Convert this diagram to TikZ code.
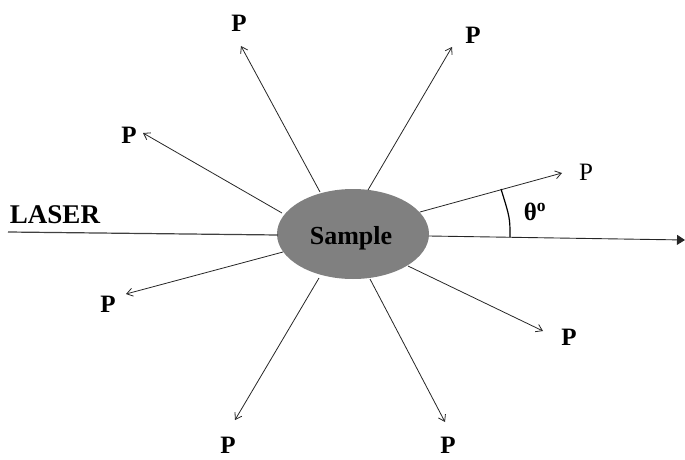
\documentclass[tikz,border=0pt]{standalone}
\usepackage{fontspec}
\setmainfont{Liberation Serif}
\usetikzlibrary{arrows.meta,shapes.geometric}
\begin{document}
\begin{tikzpicture}[x=1pt,y=-1pt,
  ray/.style={draw=black!85,line width=0.8pt,-{Straight Barb[length=6pt,width=8pt]}},
  plabel/.style={font=\fontsize{25}{25}\selectfont\bfseries,inner sep=0pt},
  plabelr/.style={font=\fontsize{25}{25}\selectfont,inner sep=0pt}]
\useasboundingbox (0,0) rectangle (685,460);
\node[ellipse,fill=black!50,minimum width=152pt,minimum height=90pt,inner sep=0pt] (s) at (353,234) {};
\node[font=\fontsize{26}{26}\selectfont\bfseries] (st) at (351,238) {Sample};
\node[font=\fontsize{27}{27}\selectfont\bfseries,inner sep=0pt] (laser) at (55,215) {LASER};
% laser beam
\coordinate (l0) at (8,232);
\coordinate (l1) at (278,235);
\draw[black!75,line width=1.2pt] (l0) -- (l1);
% transmitted beam
\coordinate (t0) at (429,236);
\coordinate (t1) at (685,240);
\draw[black!85,line width=0.9pt,-{Triangle[length=8pt,width=10pt]}] (t0) -- (t1);
% scattered rays
\coordinate (a1) at (320,192); \coordinate (b1) at (241,46);
\coordinate (a2) at (368,190); \coordinate (b2) at (452,47);
\coordinate (a3) at (282,213); \coordinate (b3) at (143,133);
\coordinate (a4) at (420,212); \coordinate (b4) at (562,173);
\coordinate (a5) at (283,252); \coordinate (b5) at (126,294);
\coordinate (a6) at (408,266); \coordinate (b6) at (543,331);
\coordinate (a7) at (319,278); \coordinate (b7) at (235,420);
\coordinate (a8) at (370,279); \coordinate (b8) at (445,422);
\foreach \i in {1,...,8} { \draw[ray] (a\i) -- (b\i); }
\node[plabel] (p1) at (239,23) {P};
\node[plabel] (p2) at (473,35) {P};
\node[plabel] (p3) at (129,135) {P};
\node[plabelr] (p4) at (586,172) {P};
\node[plabel] (p5) at (108,304) {P};
\node[plabel] (p6) at (569,337) {P};
\node[plabel] (p7) at (228,445) {P};
\node[plabel] (p8) at (448,445) {P};
% angle
\coordinate (r0) at (510,237);
\coordinate (r1) at (501,189);
\draw[black,line width=1.2pt] (r0) .. controls (510,218) .. (r1);
\node[font=\fontsize{25}{25}\selectfont\bfseries,inner sep=0pt] (th) at (535,212) {θ\textsuperscript{o}};
\end{tikzpicture}
\end{document}
